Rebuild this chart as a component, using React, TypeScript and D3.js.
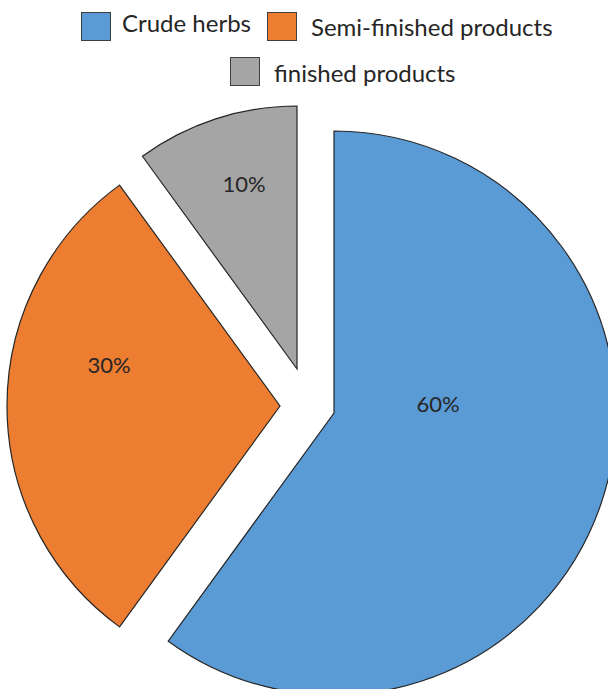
import React from "react";
import * as d3 from "d3";

// ---- data ----
const categories = ["Crude herbs", "Semi-finished products", "finished products"];
const values = [60, 30, 10];
const labels = ["60%", "30%", "10%"];

// ---- style ----
const colors = ["#5B9BD5", "#ED7D31", "#A5A5A5"];
const W = 608;
const H = 689;
const center = { x: 316, y: 407 };
// per-slice explode offsets and radii (visual styling)
const explode = [
  { dx: 18, dy: 6 },
  { dx: -36, dy: -1 },
  { dx: -19, dy: -38 },
];
const radii = [282, 273, 263];
// label placement relative to each slice's vertex (dx, baseline dy)
const labelOffset = [
  { dx: 104, dy: -1 },
  { dx: -171, dy: -33 },
  { dx: -53, dy: -177 },
];
// legend layout
const legendLayout = [
  { bx: 81, by: 12, tx: 122, ty: 32 },
  { bx: 267, by: 12, tx: 311, ty: 36 },
  { bx: 230, by: 57, tx: 274, ty: 82 },
];

const FONT = "Lato, 'Open Sans', sans-serif";

export default function App() {
  const pie = d3
    .pie<number>()
    .sort(null)
    .startAngle(0)
    .endAngle(2 * Math.PI)
    .value((d) => d);
  const arcsData = pie(values);

  return (
    <svg
      width={W}
      height={H}
      style={{ position: "absolute", left: 0, top: 0, overflow: "hidden", background: "#fff" }}
    >
      {arcsData.map((a, i) => {
        const arc = d3.arc<d3.PieArcDatum<number>>().innerRadius(0).outerRadius(radii[i]);
        const vx = center.x + explode[i].dx;
        const vy = center.y + explode[i].dy;
        return (
          <g key={i} transform={`translate(${vx},${vy})`}>
            <path
              d={arc(a) || ""}
              fill={colors[i]}
              stroke="#262626"
              strokeWidth={1.2}
              strokeLinejoin="miter"
            />
            <text
              x={labelOffset[i].dx}
              y={labelOffset[i].dy}
              textAnchor="middle"
              fontFamily={FONT}
              fontSize={22}
              fill="#262626"
            >
              {labels[i]}
            </text>
          </g>
        );
      })}
      {categories.map((c, i) => (
        <g key={c}>
          <rect
            x={legendLayout[i].bx + 0.5}
            y={legendLayout[i].by + 0.5}
            width={29}
            height={28}
            fill={colors[i]}
            stroke="#404040"
            strokeWidth={1}
          />
          <text
            x={legendLayout[i].tx}
            y={legendLayout[i].ty}
            fontFamily={FONT}
            fontSize={24}
            fill="#262626"
          >
            {c}
          </text>
        </g>
      ))}
    </svg>
  );
}
